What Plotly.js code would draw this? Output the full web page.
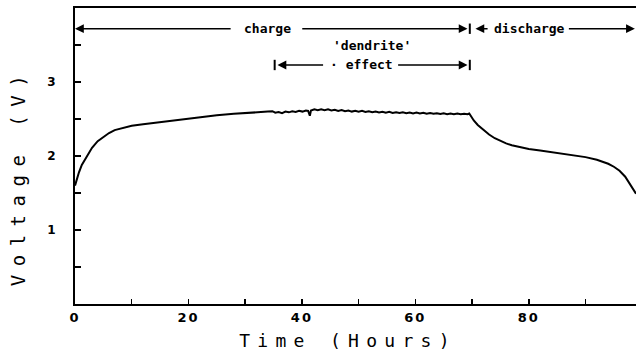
<!DOCTYPE html>
<html>
<head>
<meta charset="utf-8">
<script src="https://cdn.plot.ly/plotly-3.0.1.min.js"></script>
<style>
html,body{margin:0;padding:0;background:#fff;}
#chart{width:636px;height:353px;}
</style>
</head>
<body>
<div id="chart"></div>
<script>
// ---- data ----
const timeHours = [0,0.3,0.7,1.2,2,3,4,5,6,7,8,10,12,14,16,18,20,22,25,28,31,34,
  34.8,35.3,35.9,36.5,37.1,37.7,38.3,38.9,39.5,40.1,40.7,41.1,41.4,41.6,42.2,42.8,43.4,44.0,44.6,45.2,45.8,
  46.4,47.0,47.6,48.2,48.8,49.4,50.0,50.6,51.2,51.8,52.4,53.0,53.6,54.2,54.8,55.4,56.0,56.6,57.2,57.8,58.4,
  59.0,59.6,60.2,60.8,61.4,62.0,62.6,63.2,63.8,64.4,65.0,65.6,66.2,66.8,67.4,68.0,68.6,69.2,69.5,
  69.8,70.3,71,72,73,74,75,76,77,78,79,80,82,84,86,88,90,92,93,94,95,96,97,97.8,98.4,98.9];
const voltage = [1.60,1.68,1.78,1.88,1.99,2.11,2.20,2.26,2.31,2.35,2.37,2.41,2.43,2.45,2.47,2.49,2.51,2.53,2.55,2.57,2.59,2.60,
  2.605,2.585,2.595,2.580,2.600,2.590,2.605,2.595,2.610,2.600,2.615,2.610,2.545,2.615,2.630,2.620,2.630,2.620,2.630,2.615,2.625,
  2.610,2.620,2.605,2.615,2.600,2.610,2.598,2.610,2.595,2.605,2.592,2.602,2.588,2.598,2.585,2.596,2.582,2.592,2.580,2.590,2.578,
  2.588,2.575,2.586,2.574,2.583,2.572,2.580,2.570,2.578,2.568,2.576,2.566,2.574,2.565,2.573,2.564,2.572,2.566,2.575,
  2.54,2.48,2.42,2.35,2.29,2.24,2.20,2.17,2.145,2.125,2.11,2.095,2.075,2.055,2.035,2.01,1.985,1.95,1.925,1.895,1.855,1.80,1.72,1.63,1.56,1.49];
const xTickVals = [0,10,20,30,40,50,60,70,80,90];
const xTickText = ["0","","20","","40","","60","","80",""];
const yTickVals = [0.5,1,1.5,2,2.5,3,3.5];
const yTickText = ["","1","","2","","3",""];
const labelCharge = "charge";
const labelDischarge = "discharge";
const labelDendrite = "'dendrite'";
const labelEffect = "\u00b7 effect";
const xTitle = "Time (Hours)";
const yTitle = "Voltage (V)";

const labelFont = {family:"DejaVu Sans Mono", size:13, color:"#000", weight:"bold"};
function arrow(hx, hy, tx, ty){
  return {x:hx, y:hy, ax:tx, ay:ty, xref:'x', yref:'y', axref:'x', ayref:'y',
    text:'', showarrow:true, arrowhead:2, arrowsize:1.1, arrowwidth:1.6, arrowcolor:'#000', standoff:0, startstandoff:0};
}
function bar(x, y){
  return {type:'line', xref:'x', yref:'y', x0:x, x1:x, y0:y-0.07, y1:y+0.07, line:{color:'#000', width:2}};
}
const rowTop = 3.72, rowEff = 3.23;

const annotations = [
  arrow(0, rowTop, 27.7, rowTop),
  arrow(69.2, rowTop, 39.8, rowTop),
  {x:33.9, y:rowTop, xref:'x', yref:'y', text:labelCharge, showarrow:false, font:labelFont},
  arrow(70.6, rowTop, 73.0, rowTop),
  {x:80.2, y:rowTop, xref:'x', yref:'y', text:labelDischarge, showarrow:false, font:labelFont},
  arrow(98.7, rowTop, 86.8, rowTop),
  {x:52.3, y:3.50, xref:'x', yref:'y', text:labelDendrite, showarrow:false, font:labelFont},
  arrow(35.7, rowEff, 44.0, rowEff),
  {x:50.5, y:rowEff, xref:'x', yref:'y', text:labelEffect, showarrow:false, font:labelFont},
  arrow(69.2, rowEff, 56.7, rowEff),
  {x:0.486, y:-0.122, xref:'paper', yref:'paper', xanchor:'center', yanchor:'middle', text:xTitle, showarrow:false,
    font:{family:"DejaVu Sans Mono", size:18, color:"#000"}},
  {x:-0.101, y:0.432, xref:'paper', yref:'paper', xanchor:'center', yanchor:'middle', text:yTitle, showarrow:false, textangle:-90,
    font:{family:"DejaVu Sans Mono", size:19, color:"#000"}}
];

const shapes = [bar(69.6, rowTop), bar(69.6, rowEff), bar(35.2, rowEff)];

const trace = {x:timeHours, y:voltage, type:'scatter', mode:'lines',
  line:{color:'#000', width:2}, hoverinfo:'skip'};
// invisible companion trace so the overlay axis (inside ticks) is drawn
const tickTrace = {x:timeHours, y:voltage, yaxis:'y2', type:'scatter', mode:'lines',
  line:{color:'rgba(0,0,0,0)', width:0}, hoverinfo:'skip'};

const layout = {
  width:636, height:353,
  margin:{l:75, r:0, t:8, b:49},
  paper_bgcolor:'#fff', plot_bgcolor:'#fff',
  showlegend:false,
  xaxis:{range:[0,98.9], tickvals:xTickVals, ticktext:xTickText, ticks:'inside', ticklen:5, tickwidth:1.5,
    tickcolor:'#000', showline:true, linecolor:'#000', linewidth:2, mirror:true, showgrid:false, zeroline:false,
    tickfont:{family:"DejaVu Sans", size:13, color:"#000", weight:"bold"}},
  yaxis:{range:[0,4.0], tickvals:yTickVals, ticktext:yTickText, ticks:'outside', ticklen:15, tickwidth:1,
    tickcolor:'rgba(0,0,0,0)', showline:true, linecolor:'#000', linewidth:2, showgrid:false, zeroline:false,
    tickfont:{family:"DejaVu Sans", size:12, color:"#000", weight:"bold"}},
  yaxis2:{range:[0,4.0], overlaying:'y', side:'left', tickvals:yTickVals, ticks:'inside', ticklen:6, tickwidth:1.5,
    tickcolor:'#000', showticklabels:false, showline:false, showgrid:false, zeroline:false},
  annotations:annotations,
  shapes:shapes
};

Plotly.newPlot('chart', [trace, tickTrace], layout, {staticPlot:true, displayModeBar:false}).then(function(){
  document.querySelectorAll('.annotation-text').forEach(function(t){
    if (t.textContent === xTitle) t.style.letterSpacing = '7.3px';
    if (t.textContent === yTitle) t.style.letterSpacing = '8.5px';
  });
  document.querySelectorAll('.xtick text').forEach(function(t){ t.style.letterSpacing = '2px'; });
});
</script>
</body>
</html>
